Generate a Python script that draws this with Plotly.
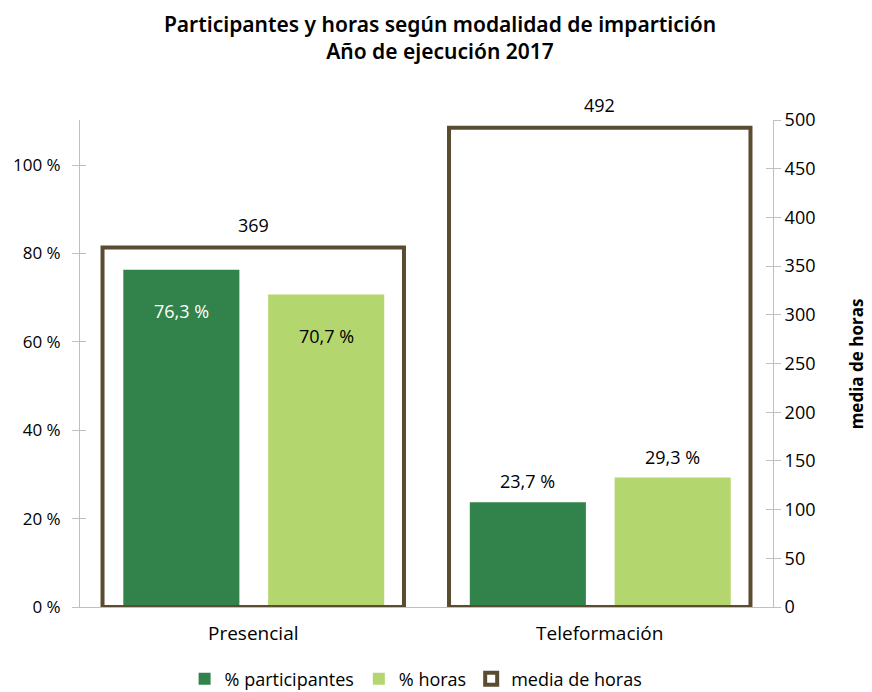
import plotly.graph_objects as go

categories = ["Presencial", "Teleformación"]
pct_participantes = [76.3, 23.7]
pct_horas = [70.7, 29.3]
media_horas = [369, 492]
left_ticks = [0, 20, 40, 60, 80, 100]
left_tick_labels = ["0 %", "20 %", "40 %", "60 %", "80 %", "100 %"]
right_ticks = list(range(0, 501, 50))

DARK = "#31834B"
LIGHT = "#B4D66E"
BOX = "#5A4C31"
AXIS = "#BFBFBF"
FONT = "Open Sans, Noto Sans, sans-serif"

x_idx = list(range(len(categories)))
BAR_W = 0.335
OFF_P = -0.375
OFF_H = 0.043
BOX_W = 0.87
BOX_OFF = -0.435


def fmt(v):
    return f"{v:.1f}".replace(".", ",") + " %"


fig = go.Figure()

fig.add_trace(go.Bar(
    x=x_idx, y=pct_participantes, name="% participantes",
    marker=dict(color=DARK, line=dict(width=0)),
    width=BAR_W, offset=OFF_P, yaxis="y",
))
fig.add_trace(go.Bar(
    x=x_idx, y=pct_horas, name="% horas",
    marker=dict(color=LIGHT, line=dict(width=0)),
    width=BAR_W, offset=OFF_H, yaxis="y",
))
fig.add_trace(go.Bar(
    x=x_idx, y=media_horas, name="media de horas",
    marker=dict(color="rgba(0,0,0,0)", line=dict(color=BOX, width=4)),
    width=BOX_W, offset=BOX_OFF, yaxis="y2",
))

annotations = []
for i in x_idx:
    for vals, off, dark in ((pct_participantes, OFF_P, True), (pct_horas, OFF_H, False)):
        v = vals[i]
        inside = v > 50
        annotations.append(dict(
            x=i + off + BAR_W / 2, y=v, xref="x", yref="y",
            text=fmt(v), showarrow=False,
            yshift=-41 if inside else 21,
            font=dict(family=FONT, size=18,
                      color="white" if (inside and dark) else "#000000"),
        ))
    annotations.append(dict(
        x=i, y=media_horas[i], xref="x", yref="y2",
        text=str(media_horas[i]), showarrow=False, yshift=23,
        font=dict(family=FONT, size=18, color="#000000"),
    ))

annotations.append(dict(
    xref="paper", yref="paper", x=1.121, y=0.5, xanchor="center", yanchor="middle",
    text="<b>media de horas</b>", textangle=-90, showarrow=False,
    font=dict(family=FONT, size=17, color="#000000"),
))

fig.update_layout(
    width=864, height=684,
    margin=dict(l=72, r=99, t=112, b=85, autoexpand=False),
    paper_bgcolor="white", plot_bgcolor="white",
    barmode="overlay",
    title=dict(
        text="Participantes y horas según modalidad de impartición<br>Año de ejecución 2017",
        x=0.5, xanchor="center", y=1 - 24 / 684, yanchor="middle",
        font=dict(family="Noto Sans", size=21, color="#000000", weight=600),
    ),
    xaxis=dict(
        tickmode="array", tickvals=x_idx, ticktext=categories,
        range=[-0.5, 1.5], showline=True, linecolor=AXIS, linewidth=1,
        ticks="", tickfont=dict(family=FONT, size=19, color="#000000"),
        ticklabelstandoff=9,
        showgrid=False, zeroline=False, automargin=False,
    ),
    yaxis=dict(
        range=[0, 110.2], tickmode="array", tickvals=left_ticks, ticktext=left_tick_labels,
        showline=True, linecolor=AXIS, linewidth=1,
        ticks="outside", ticklen=7, tickcolor=AXIS, ticklabelstandoff=8,
        tickfont=dict(family=FONT, size=17, color="#000000"),
        showgrid=False, zeroline=False, automargin=False,
    ),
    yaxis2=dict(
        range=[0, 500], tickmode="array", tickvals=right_ticks, overlaying="y", side="right",
        showline=True, linecolor=AXIS, linewidth=1,
        ticks="outside", ticklen=7, tickcolor=AXIS,
        tickfont=dict(family=FONT, size=18, color="#000000"),
        showgrid=False, zeroline=False, automargin=False,
    ),
    yaxis3=dict(
        range=[0, 110.2], tickmode="array", tickvals=left_ticks, overlaying="y", side="left",
        ticks="inside", ticklen=6, tickcolor=AXIS, showticklabels=False,
        showgrid=False, zeroline=False, showline=False, automargin=False,
    ),
    yaxis4=dict(
        range=[0, 500], tickmode="array", tickvals=right_ticks, overlaying="y", side="right",
        ticks="inside", ticklen=7, tickcolor=AXIS, showticklabels=False,
        showgrid=False, zeroline=False, showline=False, automargin=False,
    ),
    legend=dict(
        orientation="h", x=0.485, xanchor="center", y=-0.148, yanchor="middle",
        font=dict(family=FONT, size=18, color="#000000"),
        itemwidth=30, traceorder="normal",
    ),
    annotations=annotations,
    showlegend=True,
)

fig.add_trace(go.Scatter(x=[0], y=[0], yaxis="y3", mode="markers",
                         marker=dict(opacity=0), showlegend=False, hoverinfo="skip"))
fig.add_trace(go.Scatter(x=[0], y=[0], yaxis="y4", mode="markers",
                         marker=dict(opacity=0), showlegend=False, hoverinfo="skip"))

fig.write_html("out.html")
